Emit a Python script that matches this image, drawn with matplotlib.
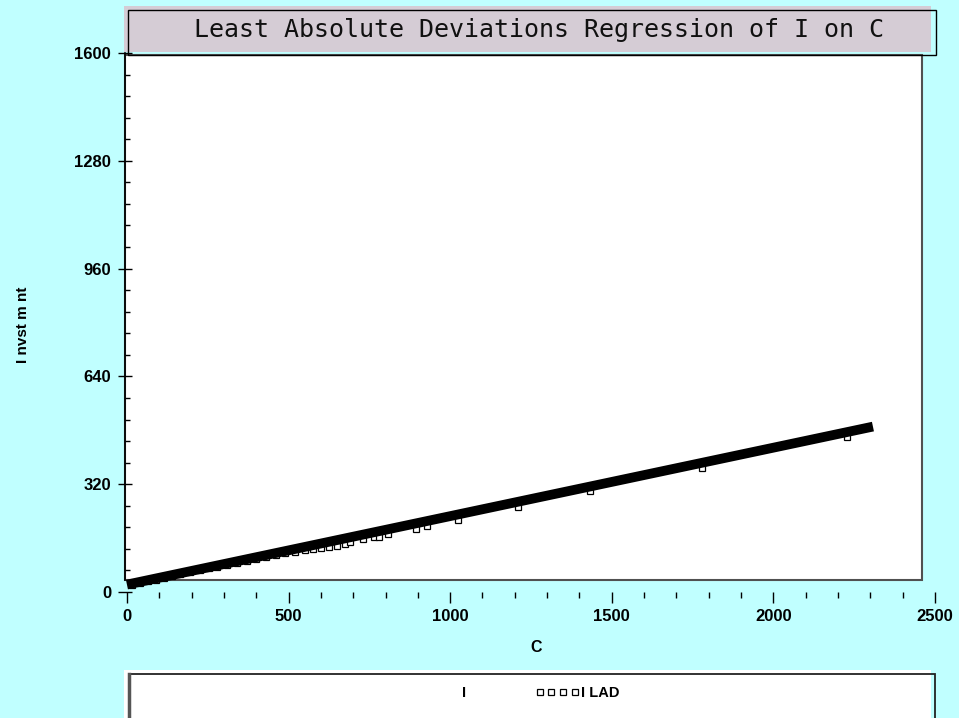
import matplotlib
matplotlib.use("Agg")
import matplotlib.pyplot as plt
from matplotlib.patches import Rectangle
from matplotlib.lines import Line2D
from matplotlib.ticker import MultipleLocator

# ---- data ----
C_obs = [15, 40, 65, 90, 115, 140, 165, 195, 225, 255, 280, 310, 340, 370, 400,
         430, 460, 490, 520, 550, 575, 600, 625, 650, 675, 690, 730, 764, 780,
         808, 894, 928, 1024, 1210, 1433, 1779, 2228]
I_obs = [22, 27, 32, 37, 42, 47, 52, 58, 64, 70, 75, 81, 87, 93, 98,
         104, 109, 115, 120, 125, 129, 131, 134, 137, 143, 149, 158, 164, 164,
         172, 187, 196, 214, 253, 300, 369, 461]
C_fit = [0, 2308]
I_fit = [22, 491]

x_ticks = [0, 500, 1000, 1500, 2000, 2500]
y_ticks = [0, 320, 640, 960, 1280, 1600]

title = "Least Absolute Deviations Regression of I on C"
xlabel = "C"
ylabel = "I nvst m nt"
legend_labels = ["I", "I LAD"]

BG = "#c0ffff"
W, H = 959, 718
fig = plt.figure(figsize=(W / 100, H / 100), dpi=100, facecolor=BG)

def fx(px):
    return px / W

def fy(py):
    return 1 - py / H

# plot area background
fig.patches.append(Rectangle((fx(125), fy(580)), fx(922) - fx(125), fy(55) - fy(580),
                             transform=fig.transFigure, facecolor="white",
                             edgecolor="#505050", linewidth=1.5, zorder=-3))
# title box
fig.patches.append(Rectangle((fx(124), fy(52)), fx(931) - fx(124), fy(6) - fy(52),
                             transform=fig.transFigure, facecolor="#d5ccd5",
                             edgecolor="none", zorder=-3))
fig.patches.append(Rectangle((fx(128), fy(55)), fx(936) - fx(128), fy(10) - fy(55),
                             transform=fig.transFigure, facecolor="none",
                             edgecolor="black", linewidth=1.0, zorder=-2))
fig.text(fx(539), fy(30), title, family="DejaVu Sans Mono", fontsize=18,
         ha="center", va="center", color="#111111")

# legend box
fig.patches.append(Rectangle((fx(124), fy(725)), fx(931) - fx(124), fy(670) - fy(725),
                             transform=fig.transFigure, facecolor="white",
                             edgecolor="none", zorder=-3))
fig.patches.append(Rectangle((fx(129), fy(725)), fx(935) - fx(129), fy(674) - fy(725),
                             transform=fig.transFigure, facecolor="none",
                             edgecolor="#222222", linewidth=1.3, zorder=-2))
fig.add_artist(Line2D([fx(129), fx(129)], [fy(674), fy(725)], transform=fig.transFigure,
                      color="#555555", linewidth=2.5, zorder=-1))

# axes
ax = fig.add_axes([fx(125), fy(592), fx(935) - fx(125), fy(53) - fy(592)])
ax.set_zorder(2)
ax.set_facecolor("none")
ax.set_xlim(-6, 2500)
ax.set_ylim(0, 1600)

ax.plot(C_obs, I_obs, ls="none", marker="s", ms=4.5, mfc="white", mec="black",
        mew=0.9, zorder=2, clip_on=False)
ax.plot(C_fit, I_fit, color="black", lw=7, solid_capstyle="butt", zorder=3,
        clip_on=False)

for s in ["top", "right", "bottom"]:
    ax.spines[s].set_visible(False)
ax.spines["left"].set_bounds(36, 1600)
ax.spines["left"].set_linewidth(1.2)

ax.set_xticks(x_ticks)
ax.set_yticks(y_ticks)
ax.xaxis.set_minor_locator(MultipleLocator(100))
ax.yaxis.set_minor_locator(MultipleLocator(64))
ax.tick_params(axis="x", which="major", direction="out", length=8, width=1, pad=4)
ax.tick_params(axis="x", which="minor", direction="out", length=4.5, width=1)
ax.tick_params(axis="y", which="major", direction="inout", length=10, width=1, pad=5)
ax.tick_params(axis="y", which="minor", direction="in", length=3.6, width=1)
for lab in ax.get_xticklabels() + ax.get_yticklabels():
    lab.set_fontfamily("Liberation Sans")
    lab.set_fontweight("bold")
    lab.set_fontsize(12)

fig.text(fx(536), fy(647), xlabel, family="Liberation Sans", fontweight="bold",
         fontsize=11.5, ha="center", va="center")
fig.text(fx(23), fy(325), ylabel, family="Liberation Sans", fontweight="bold",
         fontsize=11, rotation=90, ha="center", va="center")

# legend
h1 = Line2D([], [], color="none")
h2 = Line2D([], [], ls="none", marker="s", ms=4, mfc="white", mec="black", mew=0.9)
leg = fig.legend([h1, h2], legend_labels, ncol=2, numpoints=4, frameon=False,
                 loc="center", bbox_to_anchor=(fx(518), fy(693)),
                 prop={"family": "Liberation Sans", "weight": "bold", "size": 10.5},
                 handlelength=3.0, handletextpad=0.1, columnspacing=4.75)

fig.savefig("out.png", dpi=100, facecolor=BG)
